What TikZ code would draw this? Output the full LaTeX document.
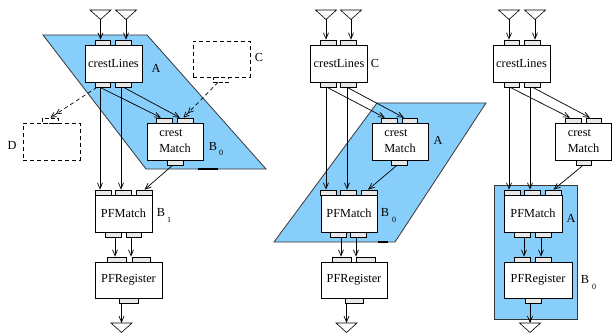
\documentclass[tikz,border=0pt]{standalone}
\usepackage{fontspec}
\setmainfont{Liberation Serif}
\usetikzlibrary{arrows.meta,calc}
\definecolor{skyfill}{RGB}{135,206,250}
\definecolor{edgegray}{RGB}{55,55,55}
\tikzset{
 blk/.style={draw, fill=white, line width=0.8pt, inner sep=0pt, align=left, font=\fontsize{12.3}{16}\selectfont},
 port/.style={draw, fill=gray!18, line width=0.6pt, minimum height=5pt, minimum width=15.5pt, inner sep=0pt},
 dport/.style={draw, dash pattern=on 3.5pt off 2.5pt, line width=0.7pt, minimum height=5pt, minimum width=15.5pt, inner sep=0pt},
 dbox/.style={draw, dash pattern=on 4pt off 3pt, line width=0.7pt, inner sep=0pt, minimum width=57pt, minimum height=37pt},
 lbl/.style={font=\fontsize{12.3}{14}\selectfont, inner sep=0pt},
 subl/.style={font=\fontsize{8}{9}\selectfont, inner sep=0pt},
 arr/.style={line width=0.7pt, -{Straight Barb[length=6pt,width=5pt]}},
 darr/.style={line width=0.7pt, dash pattern=on 4pt off 3pt, -{Straight Barb[length=5pt,width=5pt]Straight Barb[length=5pt,width=5pt]}},
 tri/.style={draw, fill=white, line width=0.6pt},
 region/.style={fill=skyfill, draw=edgegray, line width=0.8pt},
 pics/tridown/.style={code={\draw[tri] (-10.5,0) -- (10.5,0) -- (0,9.5) -- cycle; \coordinate (-tip) at (0,9.5); \coordinate (-top) at (0,0);}}
}
\begin{document}
\begin{tikzpicture}[x=1pt,y=-1pt]
\useasboundingbox (0,0) rectangle (612,334);

% ---------------- regions ----------------
\draw[region] (43,35) -- (147,35) -- (266,169) -- (146,169) -- cycle;
\draw[line width=2.2pt] (198,169) -- (218,169);
\draw[region] (377,103) -- (486,103) -- (395,242) -- (274,242) -- cycle;
\draw[line width=2.2pt] (378,242) -- (388,242);
\draw[region] (494,185) rectangle (577,319);

% ---------------- panel 1 ----------------
\pic (t1a) at (100.5,10) {tridown};
\pic (t1b) at (126,10) {tridown};
\node[blk, minimum width=57pt, minimum height=37pt] (cl1) at (113.5,63.5) {crestLines};
\node[port] (cl1i1) at (103,42.5) {};
\node[port] (cl1i2) at (123.5,42.5) {};
\node[port] (cl1o1) at (103,84.5) {};
\node[port] (cl1o2) at (123.5,84.5) {};
\node[blk, minimum width=56pt, minimum height=37pt] (cm1) at (175,141.5) {crest\\Match};
\node[port] (cm1i1) at (164.5,120.5) {};
\node[port] (cm1i2) at (185.5,120.5) {};
\node[port] (cm1o) at (175.5,162.5) {};
\node[blk, minimum width=57pt, minimum height=37pt] (pm1) at (123.5,213.5) {PFMatch};
\node[port] (pm1i1) at (103.5,192.5) {};
\node[port] (pm1i2) at (123.5,192.5) {};
\node[port] (pm1i3) at (144.5,192.5) {};
\node[port] (pm1o1) at (113.5,234.5) {};
\node[port] (pm1o2) at (134,234.5) {};
\node[blk, minimum width=67pt, minimum height=36pt] (pr1) at (128.5,280) {PFRegister};
\node[port, minimum width=19pt] (pr1i1) at (116.5,259.5) {};
\node[port, minimum width=18pt] (pr1i2) at (141,259.5) {};
\node[port, minimum width=19pt] (pr1o) at (128.5,300.5) {};
\pic (t1o) at (121.5,323) {tridown};
\node[dbox] (dD) at (51.5,141.5) {};
\node[dport] (dDp) at (50.5,120.5) {};
\node[dbox, minimum height=36pt] (dC) at (221.5,59) {};
\node[dport] (dCp) at (221,79.5) {};
\node[lbl] (lA1) at (156,68) {A};
\node[lbl] (lC1) at (259,57) {C};
\node[lbl] (lD1) at (12,145) {D};
\node[lbl] (lB01) at (213,146) {B};
\node[subl] (lB01s) at (221,153) {0};
\node[lbl] (lB11) at (161,212) {B};
\node[subl] (lB11s) at (169,220) {1};

\draw[arr] (t1a-tip) -- (t1a-tip |- cl1i1.north);
\draw[arr] (t1b-tip) -- (t1b-tip |- cl1i2.north);
\draw[arr] ([xshift=-3pt]cl1o1.south) -- ([xshift=-3pt]cl1o1.south |- pm1i1.north);
\draw[arr] ([xshift=-2.5pt]cl1o2.south) -- ([xshift=-2.5pt]cl1o2.south |- pm1i2.north);
\draw[arr] ([xshift=-3pt]cl1o1.south) -- ([xshift=-3.5pt]cm1i1.north);
\draw[arr] (cl1o2.south) -- ([xshift=-5.5pt]cm1i2.north);
\draw[darr] ([xshift=-6pt]cl1o1.south) -- (dDp.north);
\draw[darr] ([xshift=-3pt]dCp.south) -- ([xshift=-2pt]cm1i2.north);
\draw[arr] ([xshift=-3pt]cm1o.south) -- (pm1i3.north);
\draw[arr] ([xshift=1.5pt]pm1o1.south) -- ([xshift=1.5pt]pm1o1.south |- pr1i1.north);
\draw[arr] ([xshift=-3pt]pm1o2.south) -- ([xshift=-3pt]pm1o2.south |- pr1i2.north);
\draw[arr] (pr1o.south -| t1o-top) -- (t1o-top);

% ---------------- panel 2 ----------------
\pic (t2a) at (326,10) {tridown};
\pic (t2b) at (351,10) {tridown};
\node[blk, minimum width=57pt, minimum height=37pt] (cl2) at (339,63.5) {crestLines};
\node[port] (cl2i1) at (328.5,42.5) {};
\node[port] (cl2i2) at (348.5,42.5) {};
\node[port] (cl2o1) at (328.5,84.5) {};
\node[port] (cl2o2) at (348.5,84.5) {};
\node[blk, minimum width=56pt, minimum height=37pt] (cm2) at (400,141.5) {crest\\Match};
\node[port] (cm2i1) at (389.5,120.5) {};
\node[port] (cm2i2) at (410,120.5) {};
\node[port] (cm2o) at (399.5,162.5) {};
\node[blk, minimum width=56pt, minimum height=37pt] (pm2) at (349,213.5) {PFMatch};
\node[port] (pm2i1) at (328.5,192.5) {};
\node[port] (pm2i2) at (348.5,192.5) {};
\node[port] (pm2i3) at (369.5,192.5) {};
\node[port] (pm2o1) at (338.5,234.5) {};
\node[port] (pm2o2) at (358.5,234.5) {};
\node[blk, minimum width=66pt, minimum height=36pt] (pr2) at (354,280) {PFRegister};
\node[port, minimum width=19pt] (pr2i1) at (341.5,259.5) {};
\node[port, minimum width=19pt] (pr2i2) at (365.5,259.5) {};
\node[port, minimum width=18pt] (pr2o) at (354,300.5) {};
\pic (t2o) at (346.5,323) {tridown};
\node[lbl] (lC2) at (375,63) {C};
\node[lbl] (lA2) at (438,140) {A};
\node[lbl] (lB02) at (385,212) {B};
\node[subl] (lB02s) at (394,220) {0};

\draw[arr] (t2a-tip) -- (t2a-tip |- cl2i1.north);
\draw[arr] (t2b-tip) -- (t2b-tip |- cl2i2.north);
\draw[arr] ([xshift=-2.5pt]cl2o1.south) -- ([xshift=-2.5pt]cl2o1.south |- pm2i1.north);
\draw[arr] ([xshift=-1.5pt]cl2o2.south) -- ([xshift=-1.5pt]cl2o2.south |- pm2i2.north);
\draw[arr] ([xshift=-1.5pt]cl2o1.south) -- ([xshift=-4.5pt]cm2i1.north);
\draw[arr] ([xshift=-1.5pt]cl2o2.south) -- ([xshift=-6pt]cm2i2.north);
\draw[arr] ([xshift=-2.5pt]cm2o.south) -- ([xshift=-1.5pt]pm2i3.north);
\draw[arr] ([xshift=2.5pt]pm2o1.south) -- ([xshift=2.5pt]pm2o1.south |- pr2i1.north);
\draw[arr] ([xshift=-2.5pt]pm2o2.south) -- ([xshift=-2.5pt]pm2o2.south |- pr2i2.north);
\draw[arr] (pr2o.south -| t2o-top) -- (t2o-top);

% ---------------- panel 3 ----------------
\pic (t3a) at (509,10) {tridown};
\pic (t3b) at (535,10) {tridown};
\node[blk, minimum width=57pt, minimum height=37pt] (cl3) at (521.5,63.5) {crestLines};
\node[port] (cl3i1) at (512,42.5) {};
\node[port] (cl3i2) at (532.5,42.5) {};
\node[port] (cl3o1) at (512,84.5) {};
\node[port] (cl3o2) at (532.5,84.5) {};
\node[blk, minimum width=56pt, minimum height=37pt] (cm3) at (583.5,141.5) {crest\\Match};
\node[port] (cm3i1) at (573.5,120.5) {};
\node[port] (cm3i2) at (594,120.5) {};
\node[port] (cm3o) at (584,162.5) {};
\node[blk, minimum width=58pt, minimum height=37pt] (pm3) at (533,213.5) {PFMatch};
\node[port, minimum width=16pt] (pm3i1) at (512,192.5) {};
\node[port, minimum width=16pt] (pm3i2) at (532,192.5) {};
\node[port, minimum width=16pt] (pm3i3) at (553.5,192.5) {};
\node[port, minimum width=16pt] (pm3o1) at (522,234.5) {};
\node[port, minimum width=16pt] (pm3o2) at (543,234.5) {};
\node[blk, minimum width=68pt, minimum height=36pt] (pr3) at (538,280) {PFRegister};
\node[port, minimum width=16pt] (pr3i1) at (522,259.5) {};
\node[port, minimum width=16pt] (pr3i2) at (543,259.5) {};
\node[port, minimum width=16pt] (pr3o) at (533,300.5) {};
\pic (t3o) at (530,323) {tridown};
\node[lbl] (lA3) at (571,218) {A};
\node[lbl] (lB03) at (585,279) {B};
\node[subl] (lB03s) at (594,287) {0};

\draw[arr] (t3a-tip) -- (t3a-tip |- cl3i1.north);
\draw[arr] (t3b-tip) -- (t3b-tip |- cl3i2.north);
\draw[arr] ([xshift=-3pt]cl3o1.south) -- ([xshift=-3pt]cl3o1.south |- pm3i1.north);
\draw[arr] ([xshift=-2.5pt]cl3o2.south) -- ([xshift=-2.5pt]cl3o2.south |- pm3i2.north);
\draw[arr] ([xshift=-2pt]cl3o1.south) -- ([xshift=-3.5pt]cm3i1.north);
\draw[arr] (cl3o2.south) -- ([xshift=-4pt]cm3i2.north);
\draw[arr] ([xshift=-1pt]cm3o.south) -- (pm3i3.north);
\draw[arr] ([xshift=2pt]pm3o1.south) -- ([xshift=2pt]pm3o1.south |- pr3i1.north);
\draw[arr] ([xshift=-2pt]pm3o2.south) -- ([xshift=-2pt]pm3o2.south |- pr3i2.north);
\draw[arr] (pr3o.south -| t3o-top) -- (t3o-top);
\end{tikzpicture}
\end{document}
